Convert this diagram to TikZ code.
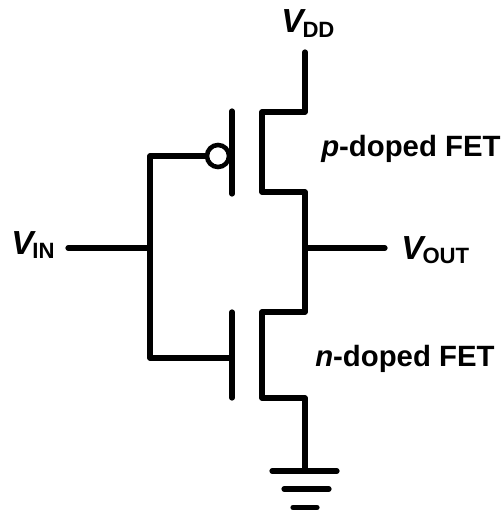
\documentclass[tikz,border=0pt]{standalone}
\usepackage{fontspec}
\setmainfont{Liberation Sans}
\tikzset{
  wire/.style={line width=3.9pt,line cap=round,line join=round,black},
  lab/.style={inner sep=0pt,font=\bfseries\fontsize{22pt}{24pt}\selectfont,anchor=base west},
  big/.style={inner sep=0pt,font=\bfseries\fontsize{25pt}{27pt}\selectfont,anchor=base west}
}
\newcommand{\vlab}[1]{\textit{\fontsize{25pt}{27pt}\selectfont V}\kern-2.5pt{\fontsize{16.6pt}{18pt}\selectfont\raisebox{-3.4pt}{#1}}}
\begin{document}
\begin{tikzpicture}[x=0.75pt,y=-0.75pt]
\useasboundingbox (0,0) rectangle (503,516);
% coordinates
\coordinate (vdd) at (305,52);
\coordinate (ptop) at (305,112);
\coordinate (ptopl) at (262,112);
\coordinate (pbotl) at (262,192);
\coordinate (pbot) at (305,192);
\coordinate (ntop) at (305,312);
\coordinate (ntopl) at (262,312);
\coordinate (nbotl) at (262,398);
\coordinate (nbot) at (305,398);
\coordinate (gnd) at (305,471);
\coordinate (out) at (305,248);
\coordinate (outend) at (385,248);
\coordinate (in) at (68,248);
\coordinate (inj) at (150,248);
\coordinate (gp) at (150,156);
\coordinate (gn) at (150,358);
\coordinate (gnb) at (232,358);
\coordinate (pbarT) at (232,111);
\coordinate (pbarB) at (232,194);
\coordinate (nbarT) at (232,312);
\coordinate (nbarB) at (232,398);
\node[circle,draw,line width=3.4pt,minimum size=16.5pt,inner sep=0pt,fill=white] (bub) at (218,156) {};
% wires
\draw[wire] (vdd) -- (ptop) -- (ptopl) -- (pbotl) -- (pbot) -- (ntop) -- (ntopl) -- (nbotl) -- (nbot) -- (gnd);
\draw[wire] (out) -- (outend);
\draw[wire] (in) -- (inj);
\draw[wire] (bub.west) -- (gp) -- (gn) -- (gnb);
\draw[wire] (pbarT) -- (pbarB);
\draw[wire] (nbarT) -- (nbarB);
% ground
\coordinate (g1l) at (272,471); \coordinate (g1r) at (337,471);
\coordinate (g2l) at (284,489); \coordinate (g2r) at (329,489);
\coordinate (g3l) at (293,507.5); \coordinate (g3r) at (317,507.5);
\draw[wire] (g1l) -- (g1r);
\draw[wire] (g2l) -- (g2r);
\draw[wire] (g3l) -- (g3r);
% labels
\node[big] (lvdd) at (281,33) {\vlab{DD}};
\node[big] (lvin) at (11,254) {\vlab{IN}};
\node[big] (lvout) at (401,259) {\vlab{OUT}};
\node[lab] (lp) at (321,157) {\textit{p}-doped FET};
\node[lab] (ln) at (315,366) {\textit{n}-doped FET};
\end{tikzpicture}
\end{document}
